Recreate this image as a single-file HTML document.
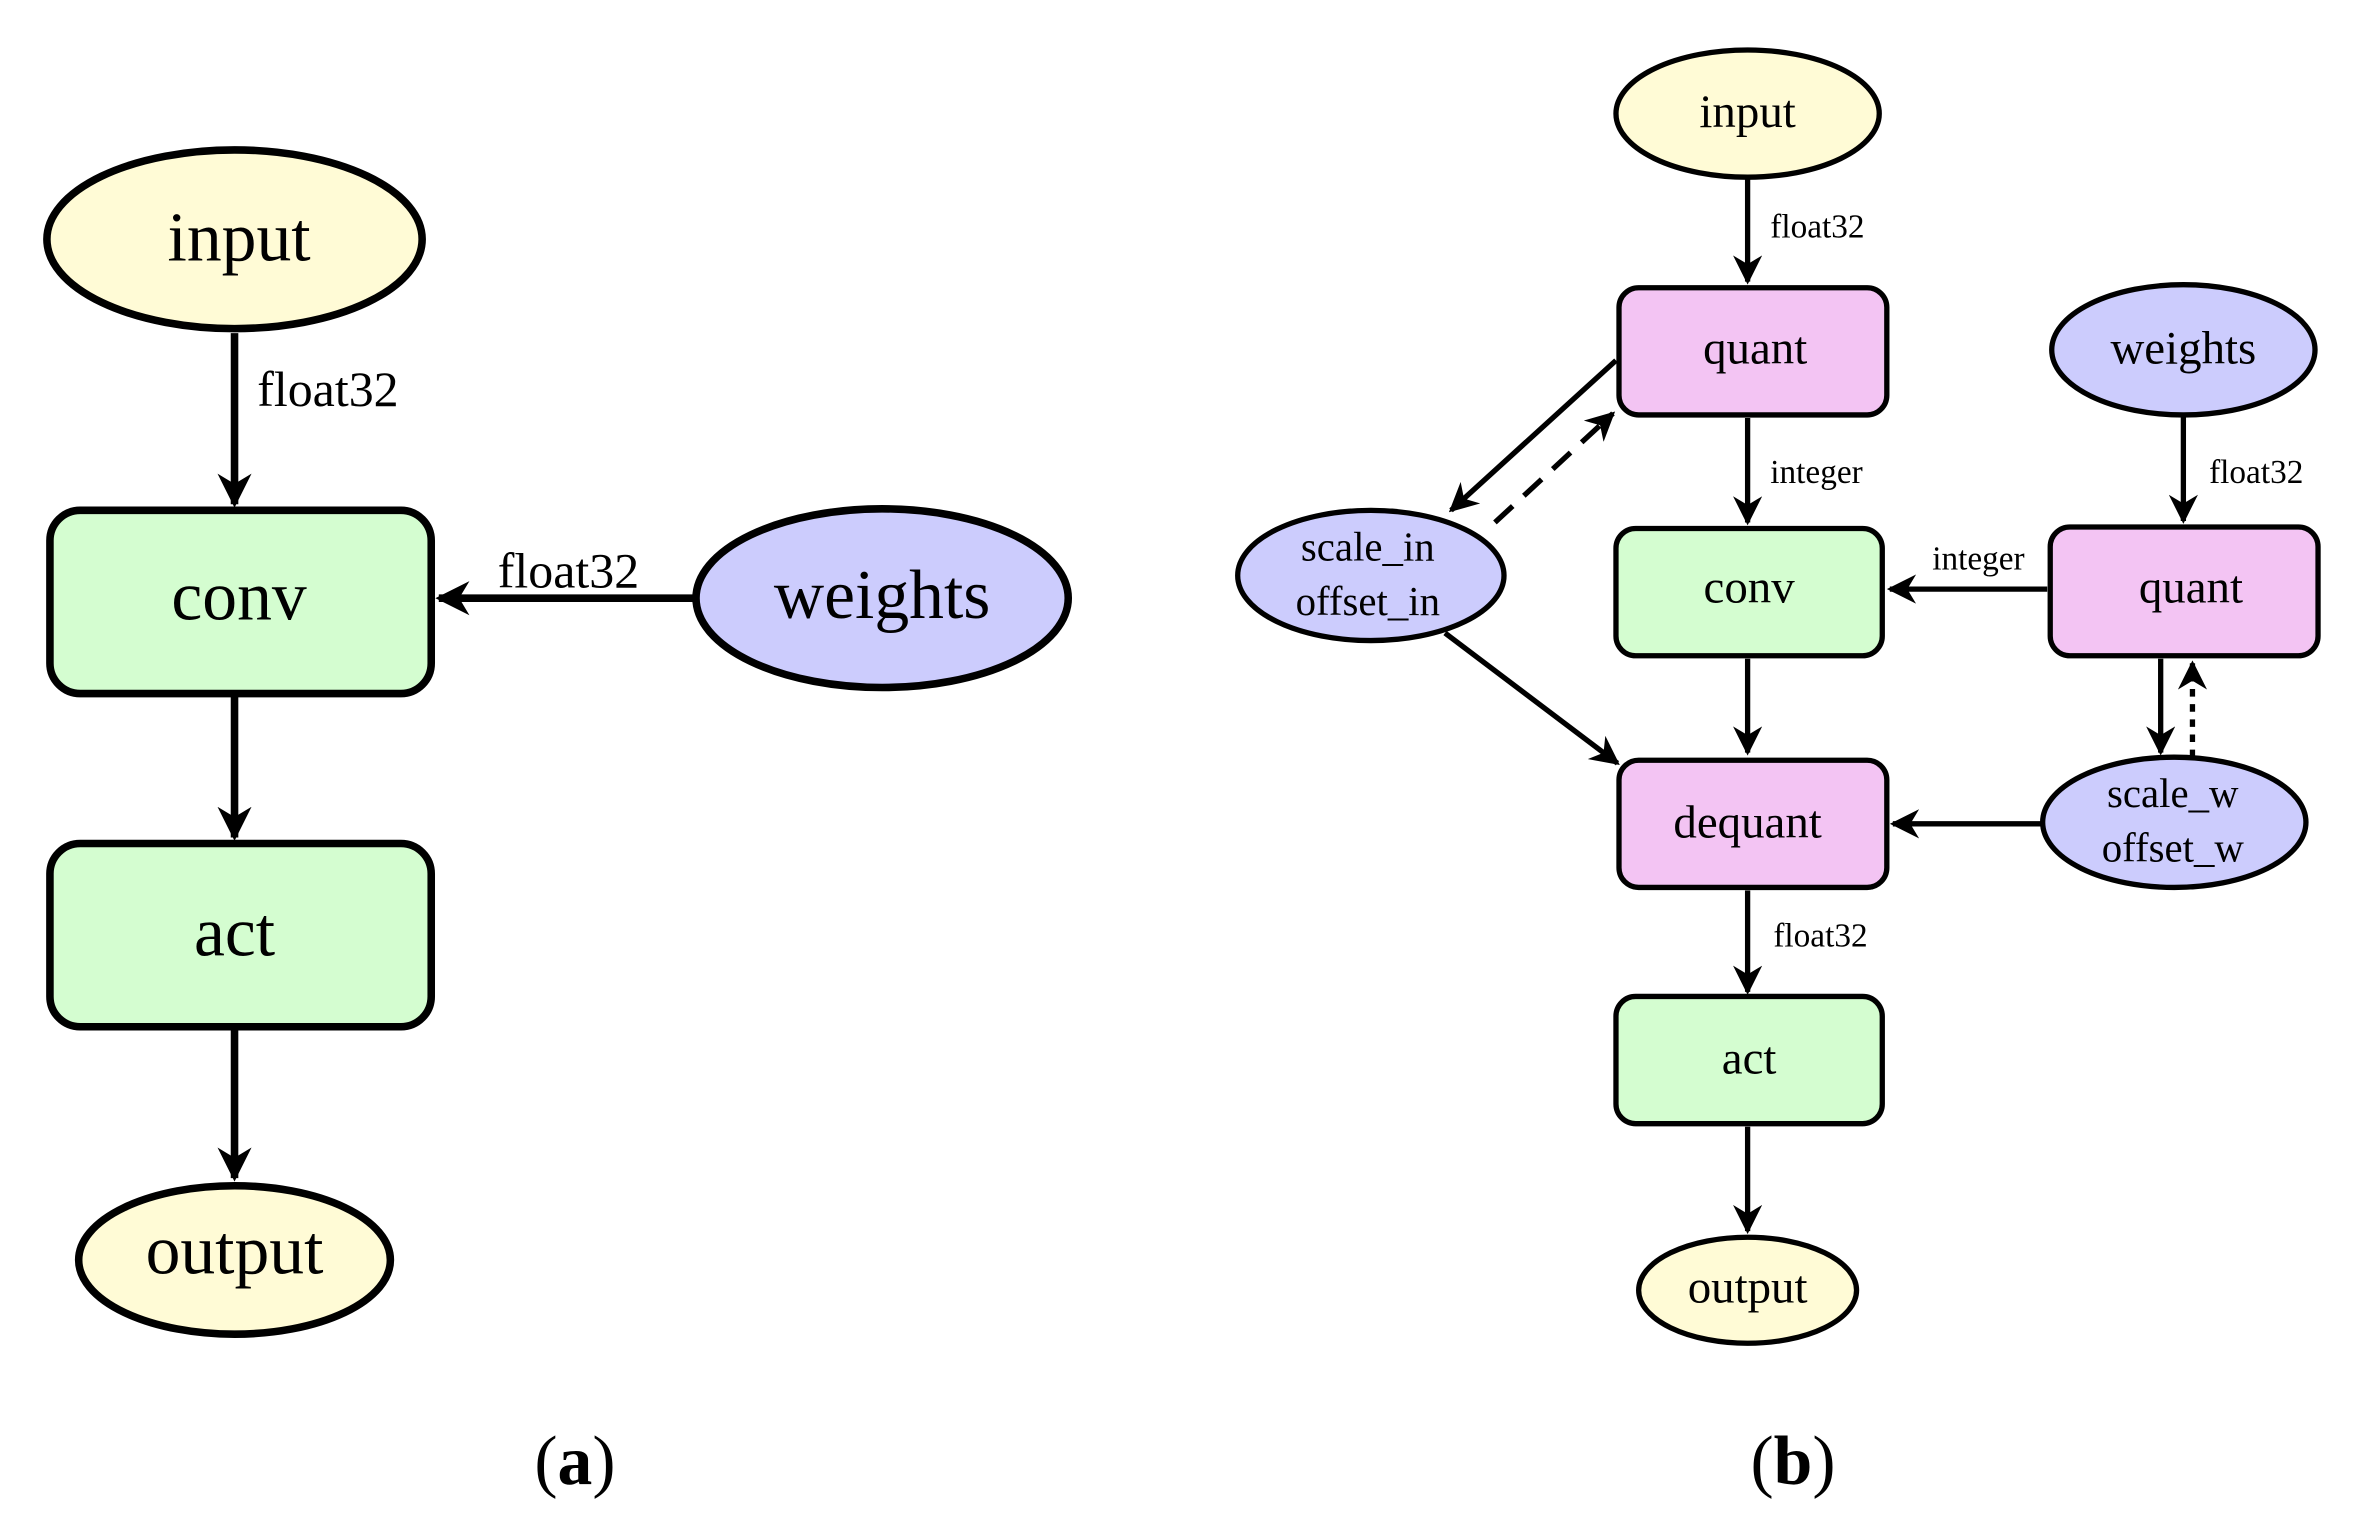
<!DOCTYPE html>
<html><head><meta charset="utf-8"><style>
html,body{margin:0;padding:0;background:#fff;}
svg{display:block;}
text{font-family:"Liberation Serif",serif;fill:#000;}
</style></head><body>
<svg width="2371" height="1528" viewBox="0 0 1567 1009" preserveAspectRatio="none" xmlns="http://www.w3.org/2000/svg">
<defs>
<marker id="ah" viewBox="0 0 10 10" refX="9" refY="5" markerWidth="4.5" markerHeight="5" orient="auto" markerUnits="strokeWidth"><path d="M0,0 L10,5 L0,10 L3,5 z" fill="#000"/></marker>
<marker id="ah2" viewBox="0 0 10 10" refX="9" refY="5" markerWidth="5.5" markerHeight="5.5" orient="auto" markerUnits="strokeWidth"><path d="M0,0 L10,5 L0,10 L3,5 z" fill="#000"/></marker>
</defs>
<!-- (a) -->
<g stroke="#000" stroke-width="5">
<ellipse cx="155" cy="158" rx="124" ry="59" fill="#fffbd6"/>
<rect x="33" y="337" width="252" height="121" rx="20" fill="#d4fdd0"/>
<ellipse cx="583" cy="395" rx="123" ry="59" fill="#ccccfd"/>
<rect x="33" y="557" width="252" height="121" rx="20" fill="#d4fdd0"/>
<ellipse cx="155" cy="832" rx="103" ry="49" fill="#fffbd6"/>
<line x1="155" y1="220" x2="155" y2="333" marker-end="url(#ah)"/>
<line x1="458" y1="395" x2="290" y2="395" marker-end="url(#ah)"/>
<line x1="155" y1="460" x2="155" y2="553" marker-end="url(#ah)"/>
<line x1="155" y1="680" x2="155" y2="778" marker-end="url(#ah)"/>
</g>
<text x="158" y="172" font-size="46" text-anchor="middle">input</text>
<text x="158" y="409" font-size="46" text-anchor="middle">conv</text>
<text x="583" y="408" font-size="46" text-anchor="middle">weights</text>
<text x="155" y="631" font-size="46" text-anchor="middle">act</text>
<text x="155" y="841" font-size="46" text-anchor="middle">output</text>
<text x="170" y="268" font-size="33">float32</text>
<text x="329" y="388" font-size="33">float32</text>
<text x="380" y="980" font-size="46" text-anchor="middle">(<tspan font-weight="bold">a</tspan>)</text>
<!-- (b) -->
<g stroke="#000" stroke-width="3.5">
<ellipse cx="1155" cy="75" rx="87" ry="42" fill="#fffbd6"/>
<rect x="1070" y="190" width="177" height="84" rx="13" fill="#f3c4f3"/>
<ellipse cx="1443" cy="231" rx="87" ry="43" fill="#ccccfd"/>
<rect x="1068" y="349" width="176" height="84" rx="13" fill="#d4fdd0"/>
<rect x="1355" y="348" width="177" height="85" rx="13" fill="#f3c4f3"/>
<ellipse cx="906" cy="380" rx="88" ry="43" fill="#ccccfd"/>
<rect x="1070" y="502" width="177" height="84" rx="13" fill="#f3c4f3"/>
<ellipse cx="1437" cy="543" rx="87" ry="43" fill="#ccccfd"/>
<rect x="1068" y="658" width="176" height="84" rx="13" fill="#d4fdd0"/>
<ellipse cx="1155" cy="852" rx="72" ry="35" fill="#fffbd6"/>
<line x1="1155" y1="118" x2="1155" y2="186" marker-end="url(#ah2)"/>
<line x1="1155" y1="276" x2="1155" y2="345" marker-end="url(#ah2)"/>
<line x1="1443" y1="275" x2="1443" y2="344" marker-end="url(#ah2)"/>
<line x1="1353" y1="389" x2="1249" y2="389" marker-end="url(#ah2)"/>
<line x1="1068" y1="238" x2="959" y2="337" marker-end="url(#ah2)"/>
<line x1="988" y1="345" x2="1066" y2="273" stroke-dasharray="16,10" marker-end="url(#ah2)"/>
<line x1="955" y1="418" x2="1069" y2="504" marker-end="url(#ah2)"/>
<line x1="1155" y1="435" x2="1155" y2="497" marker-end="url(#ah2)"/>
<line x1="1349" y1="544" x2="1251" y2="544" marker-end="url(#ah2)"/>
<line x1="1428" y1="435" x2="1428" y2="497" marker-end="url(#ah2)"/>
<line x1="1449" y1="500" x2="1449" y2="438" stroke-dasharray="5,5" marker-end="url(#ah2)"/>
<line x1="1155" y1="588" x2="1155" y2="655" marker-end="url(#ah2)"/>
<line x1="1155" y1="744" x2="1155" y2="813" marker-end="url(#ah2)"/>
</g>
<g font-size="31" text-anchor="middle">
<text x="1155" y="84">input</text>
<text x="1160" y="240">quant</text>
<text x="1443" y="240">weights</text>
<text x="1156" y="398">conv</text>
<text x="1448" y="398">quant</text>
<text x="1155" y="553">dequant</text>
<text x="1156" y="709">act</text>
<text x="1155" y="860">output</text>
</g>
<g font-size="27" text-anchor="middle">
<text x="904" y="370">scale_in</text>
<text x="904" y="406">offset_in</text>
<text x="1436" y="533">scale_w</text>
<text x="1436" y="569">offset_w</text>
</g>
<g font-size="22">
<text x="1170" y="157">float32</text>
<text x="1170" y="319">integer</text>
<text x="1460" y="319">float32</text>
<text x="1277" y="376">integer</text>
<text x="1172" y="625">float32</text>
</g>
<text x="1185" y="980" font-size="46" text-anchor="middle">(<tspan font-weight="bold">b</tspan>)</text>
</svg>
</body></html>
